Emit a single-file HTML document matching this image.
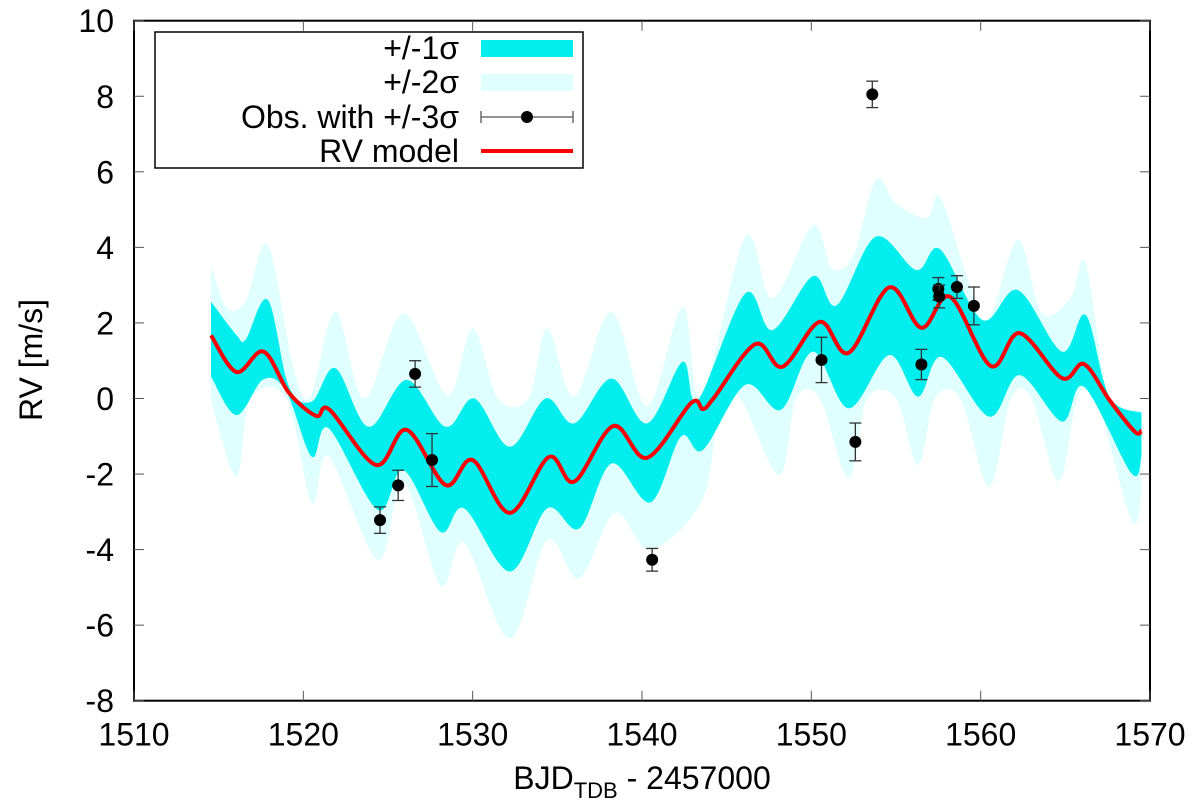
<!DOCTYPE html>
<html><head><meta charset="utf-8"><style>
html,body{margin:0;padding:0;background:#fff;}
svg{display:block;font-family:"Liberation Sans",sans-serif;}
</style></head><body>
<svg id="chart" width="1200" height="812" viewBox="0 0 1200 812"></svg>
<script>
// ---- data ----
const xTicks=[1510,1520,1530,1540,1550,1560,1570];
const yTicks=[-8,-6,-4,-2,0,2,4,6,8,10];
const modelT=[1514.55,1516.05,1517.65,1519.15,1520.75,1521.55,1524.3,1526.1,1528.4,1530.0,1532.2,1534.5,1536.0,1538.3,1540.3,1542.9,1543.6,1544.25,1546.7,1548.3,1550.5,1552.2,1554.6,1556.5,1558.2,1560.6,1562.3,1564.8,1566.1,1567.6,1569.1,1569.5];
const modelV=[1.67,0.70,1.24,0.15,-0.46,-0.30,-1.76,-0.83,-2.29,-1.63,-3.03,-1.55,-2.2,-0.73,-1.57,-0.12,-0.28,0.02,1.44,0.84,2.03,1.21,2.94,1.87,2.69,0.86,1.73,0.54,0.91,-0.04,-0.88,-0.85];
const s1UpT=[1514.55,1516.05,1516.6,1517.9,1519.15,1520.5,1521.9,1523.85,1526.1,1528.4,1530.1,1532.2,1534.3,1536.0,1538.2,1540.3,1542.4,1543.3,1546.1,1547.7,1550.1,1551.5,1553.8,1556.2,1557.6,1560.1,1562.2,1564.8,1566.2,1567.6,1569.5];
const s1UpV=[2.56,1.68,1.57,2.61,0.31,-0.08,0.8,-0.75,0.49,-0.75,0.0,-1.28,0.0,-0.66,0.53,-0.66,0.97,-0.04,2.78,1.81,3.24,2.47,4.28,3.4,3.95,2.08,2.87,1.24,2.21,0.05,-0.38];
const s1LoT=[1514.55,1516.05,1517.65,1519.0,1520.5,1521.5,1524.4,1525.9,1528.1,1529.5,1532.2,1534.4,1536.3,1538.2,1540.5,1542.3,1543.6,1546.1,1548.2,1550.1,1552.2,1554.6,1556.3,1557.7,1560.5,1562.3,1564.8,1566.1,1568.9,1569.5];
const s1LoV=[0.58,-0.44,0.51,0.18,-1.54,-0.79,-2.95,-1.89,-3.53,-2.91,-4.58,-2.91,-3.44,-1.72,-2.75,-1.01,-1.36,0.36,-0.30,1.24,-0.26,1.15,0.05,1.1,-0.48,0.62,-0.61,0.31,-1.98,-1.54];
const s2UpT=[1514.55,1515.5,1516.6,1517.9,1519.4,1520.4,1521.9,1523.6,1525.9,1528.5,1530.0,1531.5,1533.3,1534.4,1536.0,1538.2,1540.3,1542.4,1543.5,1546.1,1547.7,1550.1,1551.2,1552.5,1553.8,1555.0,1556.8,1557.6,1559.2,1560.4,1562.2,1563.6,1565.3,1566.2,1567.6,1569.5];
const s2UpV=[3.53,2.39,2.6,4.06,0.84,0.05,2.3,0.0,2.25,0.1,1.86,0.0,0.0,1.86,0.05,2.3,-0.2,2.43,0.0,4.28,2.65,4.59,3.45,3.8,5.8,5.17,4.77,5.34,3.22,2.03,4.2,2.26,2.65,3.58,-0.04,-0.3];
const s2LoT=[1514.55,1516.05,1516.9,1519.0,1520.5,1521.5,1524.4,1525.9,1528.1,1529.5,1532.2,1534.4,1536.3,1538.4,1540.5,1543.6,1544.6,1545.8,1548.1,1549.1,1550.5,1552.2,1553.3,1555.0,1556.3,1557.3,1558.8,1560.5,1561.8,1563.0,1564.6,1565.7,1566.8,1568.9,1569.5];
const s2LoV=[-0.08,-2.07,0.0,0.0,-2.77,-1.54,-4.27,-2.2,-4.94,-3.83,-6.35,-3.75,-4.76,-3.04,-4.0,-2.64,0.0,0.0,-2.02,0.0,0.0,-2.11,0.0,0.0,-1.76,0.0,0.0,-2.33,0.0,0.0,-2.2,0.0,0.0,-3.22,-2.55];
const obsT=[1524.53,1525.6,1526.6,1527.6,1540.6,1550.6,1552.6,1553.6,1556.5,1557.5,1557.55,1558.6,1559.6];
const obsV=[-3.22,-2.3,0.65,-1.63,-4.27,1.02,-1.15,8.05,0.9,2.9,2.7,2.95,2.45];
const obsE=[0.35,0.4,0.35,0.7,0.3,0.6,0.5,0.35,0.4,0.3,0.3,0.3,0.5];
// ---- axes ----
const X0=134,X1=1150,Y0=20.7,Y1=700.7,XMIN=1510,XMAX=1570,YMIN=-8,YMAX=10;
const sx=t=>X0+(t-XMIN)/(XMAX-XMIN)*(X1-X0);
const sy=v=>Y1-(v-YMIN)/(YMAX-YMIN)*(Y1-Y0);
const NS='http://www.w3.org/2000/svg';
const svg=document.getElementById('chart');
function mk(tag,attrs,parent){const e=document.createElementNS(NS,tag);for(const k in attrs)e.setAttribute(k,attrs[k]);(parent||svg).appendChild(e);return e;}
function crPath(T,V,start){
  const p=T.map((t,i)=>[sx(t),sy(V[i])]);
  let d=(start?start:'M')+p[0][0].toFixed(1)+','+p[0][1].toFixed(1);
  for(let i=0;i<p.length-1;i++){
    const a=p[Math.max(0,i-1)],b=p[i],c=p[i+1],e=p[Math.min(p.length-1,i+2)];
    const c1=[b[0]+(c[0]-a[0])/6,b[1]+(c[1]-a[1])/6],c2=[c[0]-(e[0]-b[0])/6,c[1]-(e[1]-b[1])/6];
    d+=' C'+c1[0].toFixed(1)+','+c1[1].toFixed(1)+' '+c2[0].toFixed(1)+','+c2[1].toFixed(1)+' '+c[0].toFixed(1)+','+c[1].toFixed(1);
  }
  return d;
}
function band(UT,UV,LT,LV){
  return crPath(UT,UV,'M')+' '+crPath(LT.slice().reverse(),LV.slice().reverse(),'L')+' Z';
}
const b2=mk('path',{d:band(s2UpT,s2UpV,s2LoT,s2LoV),fill:'#e0ffff'});


const b1=mk('path',{d:band(s1UpT,s1UpV,s1LoT,s1LoV),fill:'#00eeee'});


// frame & ticks
const fr=mk('rect',{x:X0,y:Y0,width:X1-X0,height:Y1-Y0,fill:'none',stroke:'#000','stroke-width':2});


xTicks.forEach(t=>{
  const x=sx(t);
  mk('line',{x1:x,y1:Y1,x2:x,y2:Y1-10,stroke:'#555','stroke-width':1});
  mk('line',{x1:x,y1:Y0,x2:x,y2:Y0+10,stroke:'#555','stroke-width':1});
  const tx=mk('text',{x:x,y:Y1+45,'text-anchor':'middle','font-size':32});
  tx.textContent=t;
  
  
});
yTicks.forEach(v=>{
  const y=sy(v);
  mk('line',{x1:X0,y1:y,x2:X0+10,y2:y,stroke:'#555','stroke-width':1});
  mk('line',{x1:X1,y1:y,x2:X1-10,y2:y,stroke:'#555','stroke-width':1});
  const tx=mk('text',{x:X0-20,y:y+11.5,'text-anchor':'end','font-size':32});
  tx.textContent=v;
  
  
});
// model
const ml=mk('path',{d:crPath(modelT,modelV,'M'),fill:'none',stroke:'#ff0000','stroke-width':4,'stroke-linejoin':'round'});


// observations
obsT.forEach((t,i)=>{
  const g=mk('g',{});
  
  
  const x=sx(t),yt=sy(obsV[i]+obsE[i]),yb=sy(obsV[i]-obsE[i]);
  mk('line',{x1:x,y1:yt,x2:x,y2:yb,stroke:'#333','stroke-width':1.3},g);
  mk('line',{x1:x-6,y1:yt,x2:x+6,y2:yt,stroke:'#333','stroke-width':1.3},g);
  mk('line',{x1:x-6,y1:yb,x2:x+6,y2:yb,stroke:'#333','stroke-width':1.3},g);
  mk('circle',{cx:x,cy:sy(obsV[i]),r:6,fill:'#000'},g);
});
// legend
const lg=mk('g',{});


mk('rect',{x:155,y:32,width:428,height:136,fill:'#fff',stroke:'#000','stroke-width':1.5},lg);
const labels=['+/-1σ','+/-2σ','Obs. with +/-3σ','RV model'];
const rowsY=[48,82,117,151];
labels.forEach((l,i)=>{
  const tx=mk('text',{x:459,y:rowsY[i]+11,'text-anchor':'end','font-size':32},lg);
  tx.textContent=l;
  
  
});
mk('rect',{x:481,y:40,width:92,height:17,fill:'#00eeee'},lg);
mk('rect',{x:481,y:74,width:92,height:17,fill:'#e0ffff'},lg);
mk('line',{x1:481,y1:117,x2:573,y2:117,stroke:'#555','stroke-width':1.3},lg);
mk('line',{x1:481,y1:111,x2:481,y2:123,stroke:'#555','stroke-width':1.3},lg);
mk('line',{x1:573,y1:111,x2:573,y2:123,stroke:'#555','stroke-width':1.3},lg);
mk('circle',{cx:527,cy:117,r:6,fill:'#000'},lg);
mk('line',{x1:481,y1:151,x2:573,y2:151,stroke:'#ff0000','stroke-width':4},lg);
// axis titles
const yl=mk('text',{x:0,y:0,'text-anchor':'middle','font-size':32,transform:'translate(42,360) rotate(-90)'});
yl.textContent='RV [m/s]';


const xl=mk('text',{x:642,y:789,'text-anchor':'middle','font-size':32});
xl.innerHTML='BJD<tspan font-size="22" dy="9">TDB</tspan><tspan dy="-9"> - 2457000</tspan>';


</script>
</body></html>
